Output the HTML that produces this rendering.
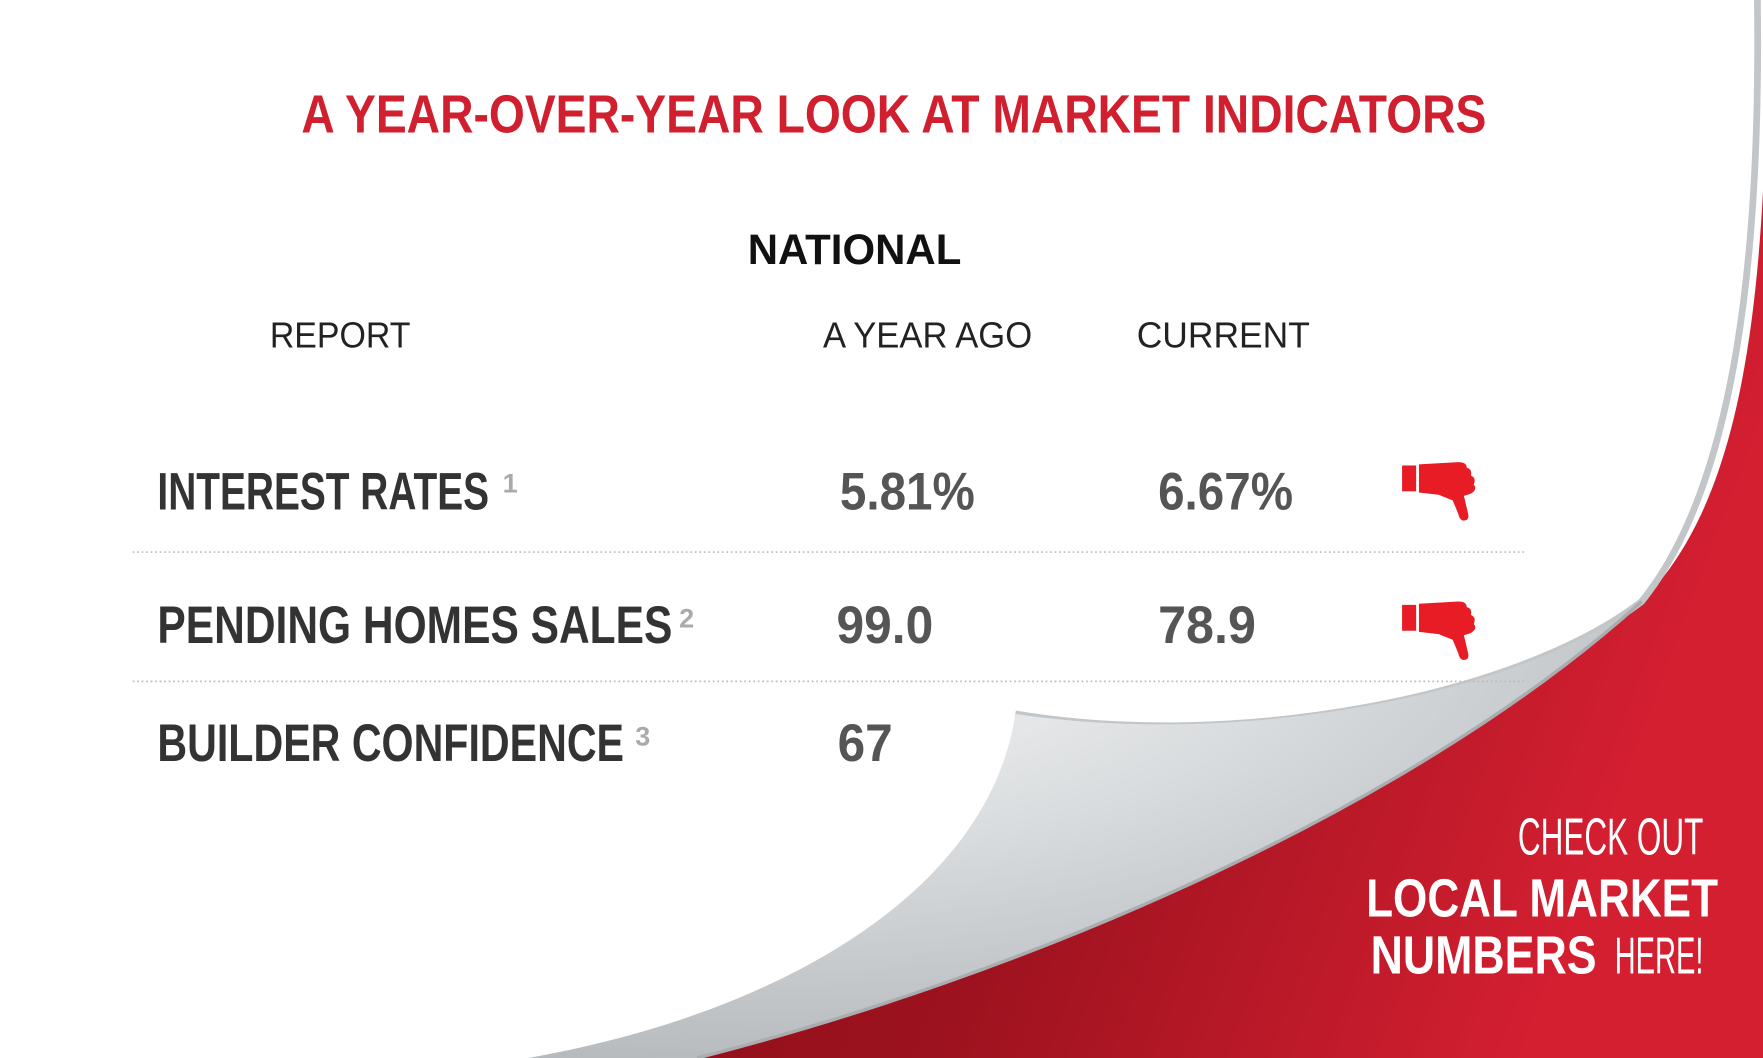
<!DOCTYPE html>
<html><head><meta charset="utf-8"><style>
html,body{margin:0;padding:0;background:#fff;}
svg{display:block;}
</style></head><body>
<svg width="1763" height="1058" viewBox="0 0 1568 941" preserveAspectRatio="none" xmlns="http://www.w3.org/2000/svg" font-family="'Liberation Sans', sans-serif">
<defs>
<linearGradient id="red" x1="0" y1="0" x2="1" y2="0.3">
<stop offset="0" stop-color="#8a0e1a"/><stop offset="0.5" stop-color="#9c121e"/><stop offset="1" stop-color="#d41f31"/>
</linearGradient>
<radialGradient id="curl" cx="0.2" cy="0.05" r="1">
<stop offset="0" stop-color="#fafafa"/><stop offset="0.5" stop-color="#d9dcde"/><stop offset="1" stop-color="#b4b8bb"/>
</radialGradient>
<g id="thumb">
<rect x="0" y="3" width="10" height="23" fill="#e81c24"/>
<path d="M12,2 L40,0 Q46,0 46,5 Q50,6 49,12 Q53,14 51,20 Q54,24 49,28 L44,30 L47,46 Q48,52 44,52 Q41,52 40,46 L36,34 L26,29 L12,27 Z" fill="#e81c24"/>
</g>
</defs>
<rect width="1568" height="941" fill="#fff"/>
<path d="M1568,170 L1568,941 L590,941 C900,870 1250,720 1460,535 C1525,470 1558,360 1568,170 Z" fill="url(#red)"/>
<path d="M1563,0 C1566,220 1545,430 1460,535 C1350,620 1100,668 903,635" fill="none" stroke="#c3c6c9" stroke-width="6"/>
<path d="M903,635 C1100,665 1350,620 1460,535 C1250,725 900,870 620,941 L470,941 C700,900 880,790 903,635 Z" fill="url(#curl)"/>
<path d="M1460,535 C1250,725 900,870 620,941" fill="none" stroke="#a9adb0" stroke-width="3"/>

<text x="268" y="118" font-size="48" font-weight="bold" fill="#d01f2e" textLength="1054" lengthAdjust="spacingAndGlyphs">A YEAR-OVER-YEAR LOOK AT MARKET INDICATORS</text>
<text x="665" y="235" font-size="38" font-weight="bold" fill="#111" textLength="190" lengthAdjust="spacingAndGlyphs">NATIONAL</text>
<text x="240" y="309" font-size="32" fill="#222" textLength="125" lengthAdjust="spacingAndGlyphs">REPORT</text>
<text x="732" y="309" font-size="32" fill="#222" textLength="186" lengthAdjust="spacingAndGlyphs">A YEAR AGO</text>
<text x="1011" y="309" font-size="32" fill="#222" textLength="154" lengthAdjust="spacingAndGlyphs">CURRENT</text>

<g font-weight="bold">
<text x="140" y="453" font-size="47" fill="#333" textLength="295" lengthAdjust="spacingAndGlyphs">INTEREST RATES</text>
<text x="447" y="438" font-size="24" fill="#aaa">1</text>
<text x="747" y="453" font-size="47" fill="#555" textLength="120" lengthAdjust="spacingAndGlyphs">5.81%</text>
<text x="1030" y="453" font-size="47" fill="#555" textLength="120" lengthAdjust="spacingAndGlyphs">6.67%</text>

<text x="140" y="572" font-size="47" fill="#333" textLength="458" lengthAdjust="spacingAndGlyphs">PENDING HOMES SALES</text>
<text x="604" y="558" font-size="24" fill="#aaa">2</text>
<text x="744" y="572" font-size="47" fill="#555" textLength="86" lengthAdjust="spacingAndGlyphs">99.0</text>
<text x="1030" y="572" font-size="47" fill="#555" textLength="87" lengthAdjust="spacingAndGlyphs">78.9</text>

<text x="140" y="677" font-size="47" fill="#333" textLength="415" lengthAdjust="spacingAndGlyphs">BUILDER CONFIDENCE</text>
<text x="565" y="663" font-size="24" fill="#aaa">3</text>
<text x="745" y="677" font-size="47" fill="#555" textLength="49" lengthAdjust="spacingAndGlyphs">67</text>
</g>

<line x1="118" y1="491" x2="1357" y2="491" stroke="#bbb" stroke-width="1.5" stroke-dasharray="1.5 2.5"/>
<line x1="118" y1="606" x2="1357" y2="606" stroke="#bbb" stroke-width="1.5" stroke-dasharray="1.5 2.5"/>

<use href="#thumb" transform="translate(1247,411) scale(1.25,1)"/>
<use href="#thumb" transform="translate(1247,535) scale(1.25,1)"/>

<text x="1350" y="760" font-size="46" fill="#fff" textLength="165" lengthAdjust="spacingAndGlyphs">CHECK OUT</text>
<text x="1215" y="815" font-size="48" font-weight="bold" fill="#fff" textLength="313" lengthAdjust="spacingAndGlyphs">LOCAL MARKET</text>
<text x="1219" y="866" font-size="48" font-weight="bold" fill="#fff" textLength="201" lengthAdjust="spacingAndGlyphs">NUMBERS</text>
<text x="1436" y="866" font-size="46" fill="#fff" textLength="79" lengthAdjust="spacingAndGlyphs">HERE!</text>
</svg>
</body></html>
